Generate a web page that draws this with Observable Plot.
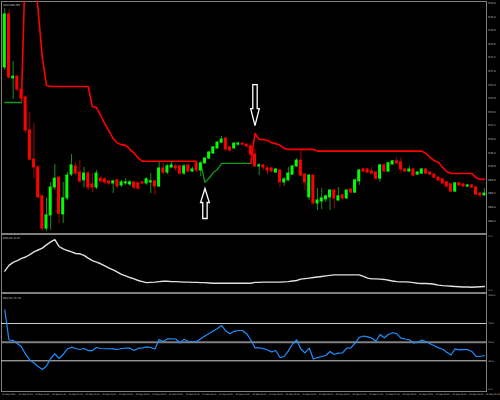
<!DOCTYPE html>
<html><head><meta charset="utf-8">
<script src="https://cdn.jsdelivr.net/npm/d3@7"></script>
<script src="https://cdn.jsdelivr.net/npm/@observablehq/plot@0.6"></script>
<style>
html,body{margin:0;padding:0;background:#000;}
#chart{width:500px;height:400px;position:relative;overflow:hidden;background:#000;}
#chart svg{position:absolute;left:0;display:block;}
</style></head><body><div id="chart"></div>
<script>
const chartTitle = "XAUUSD,M5";
const openP = [672.91,674.47,672.59,672.64,672.26,672.03,671.06,670.20,669.97,669.12,
668.17,668.56,669.38,669.67,668.59,669.06,669.76,670.00,669.82,669.59,
669.79,669.47,669.38,669.64,669.62,669.56,669.50,669.59,669.44,669.50,
669.47,669.53,669.50,669.53,669.50,669.53,669.56,669.41,669.94,669.82,
669.97,670.00,670.00,669.79,670.03,669.85,670.09,669.88,670.09,670.23,
670.38,670.53,670.70,670.82,670.56,670.53,670.64,670.67,670.64,670.59,
670.35,670.00,670.03,669.94,669.94,669.82,669.88,669.53,669.59,669.76,
670.00,670.17,669.76,669.09,669.73,668.91,668.97,669.03,669.09,669.29,
669.00,669.15,669.06,669.32,669.23,669.56,669.91,669.91,669.85,669.82,
669.64,670.03,669.85,670.06,670.15,670.12,669.91,669.85,669.91,669.76,
669.79,669.91,669.82,669.76,669.67,669.62,669.53,669.47,669.26,669.50,
669.47,669.41,669.44,669.38,669.20,669.15];
const highP = [674.64,674.59,673.09,672.67,672.29,672.09,671.59,671.26,670.03,669.15,
669.06,669.53,670.06,669.70,669.53,669.82,670.35,670.12,670.17,669.97,
669.85,669.79,669.88,669.70,669.67,669.59,669.59,669.62,669.59,669.64,
669.59,669.56,669.53,669.56,669.67,669.79,669.59,670.12,670.09,670.06,
670.15,670.06,670.03,670.06,670.06,669.97,670.15,670.15,670.26,670.44,
670.59,670.73,670.88,670.85,670.59,670.70,670.73,670.70,670.67,670.67,
670.50,670.09,670.06,670.00,669.97,669.94,669.91,669.67,669.97,670.03,
670.23,670.53,669.79,669.76,669.76,669.35,669.35,669.15,669.32,669.32,
669.38,669.17,669.32,669.35,669.62,669.91,669.94,669.94,669.97,669.85,
670.06,670.06,670.12,670.17,670.26,670.26,669.94,670.00,669.94,669.85,
669.94,669.94,669.85,669.79,669.70,669.64,669.56,669.50,669.53,669.53,
669.50,669.47,669.47,669.41,669.23,669.35];
const lowP = [672.82,672.56,671.97,672.20,671.94,670.97,670.17,669.64,669.06,668.09,
668.09,668.12,669.29,668.32,668.32,669.00,669.70,669.73,669.50,669.38,
669.29,669.23,669.32,669.50,669.47,669.44,669.20,669.35,669.38,669.44,
669.41,669.32,669.29,669.47,669.44,669.20,669.15,669.38,669.76,669.76,
669.94,669.85,669.73,669.73,669.82,669.82,669.82,669.70,670.06,670.20,
670.35,670.50,670.67,670.44,670.41,670.50,670.59,670.62,670.56,670.29,
669.97,669.73,669.88,669.76,669.82,669.79,669.38,669.41,669.56,669.73,
669.97,669.70,669.29,669.00,668.88,668.70,668.73,668.94,668.70,668.76,
668.97,669.00,669.03,669.20,669.20,669.44,669.82,669.79,669.76,669.59,
669.53,669.82,669.82,670.03,670.06,669.82,669.82,669.82,669.70,669.73,
669.76,669.76,669.73,669.64,669.56,669.47,669.35,669.23,669.23,669.41,
669.38,669.38,669.35,669.15,669.06,669.12];
const closeP = [674.47,672.62,672.64,672.26,672.00,671.06,670.20,669.97,669.09,668.17,
668.56,669.38,669.64,668.61,669.06,669.73,670.03,669.79,669.56,669.79,
669.38,669.38,669.79,669.56,669.53,669.50,669.56,669.41,669.53,669.53,
669.53,669.38,669.35,669.50,669.62,669.56,669.41,669.94,669.82,670.00,
670.03,669.94,669.79,670.00,669.85,669.91,669.88,670.09,670.23,670.41,
670.56,670.70,670.79,670.50,670.47,670.67,670.67,670.64,670.59,670.35,
670.00,670.03,669.97,669.88,669.85,669.91,669.53,669.62,669.79,670.00,
670.17,669.73,669.53,669.73,668.91,669.00,669.06,669.12,669.29,669.06,
669.12,669.06,669.29,669.23,669.59,669.88,669.85,669.82,669.79,669.64,
670.03,669.85,670.09,670.15,670.09,669.91,669.85,669.91,669.73,669.82,
669.91,669.79,669.76,669.67,669.59,669.50,669.41,669.26,669.50,669.44,
669.41,669.44,669.38,669.17,669.15,669.20];
const N = null;
const trendUp = [671.88,671.88,671.88,671.88,671.88,N,N,N,N,N,
N,N,N,N,N,N,N,N,N,N, N,N,N,N,N,N,N,N,N,N, N,N,N,N,N,N,N,N,N,N,
N,N,N,N,N,N,N,670.09,669.53,669.66,
669.82,669.91,670.09,670.09,670.09,670.09,670.09,670.09,670.09,670.09,
N,N,N,N,N,N,N,N,N,N, N,N,N,N,N,N,N,N,N,N, N,N,N,N,N,N,N,N,N,N,
N,N,N,N,N,N,N,N,N,N, N,N,N,N,N,N,N,N,N,N, N,N,N,N,N,N];
const trendDown = [N,N,N,N,671.94,676.35,676.20,675.76,674.59,673.20,
672.38,672.35,672.35,672.35,672.35,672.35,672.35,672.35,672.35,672.35,
672.35,671.76,671.73,671.50,671.25,671.04,670.82,670.69,670.64,670.62,
670.50,670.39,670.25,670.15,670.15,670.15,670.15,670.15,670.15,670.15,
670.15,670.15,670.15,670.15,670.15,670.15,670.15,N,N,N,
N,N,N,N,N,N,N,N,N,670.09,
670.97,670.79,670.79,670.76,670.70,670.67,670.62,670.53,670.50,670.50,
670.50,670.50,670.50,670.50,670.50,670.45,670.45,670.45,670.45,670.45,
670.45,670.45,670.45,670.45,670.45,670.45,670.45,670.45,670.45,670.45,
670.45,670.45,670.45,670.45,670.45,670.45,670.45,670.45,670.45,670.45,
670.45,670.38,670.26,670.17,670.12,669.97,669.85,669.79,669.79,669.79,
669.79,669.79,669.79,669.67,669.62,669.62];
const atrValues = [0.72,0.93,1.04,1.11,1.19,1.24,1.33,1.43,1.50,1.57,
1.69,1.80,1.88,1.63,1.54,1.48,1.43,1.37,1.36,1.30,
1.20,1.11,1.05,0.99,0.91,0.83,0.76,0.68,0.60,0.54,
0.48,0.43,0.37,0.33,0.29,0.30,0.31,0.33,0.34,0.34,
0.33,0.33,0.32,0.31,0.31,0.30,0.30,0.29,0.29,0.28,
0.27,0.27,0.27,0.27,0.27,0.27,0.27,0.27,0.27,0.27,
0.30,0.30,0.31,0.31,0.31,0.31,0.31,0.32,0.33,0.35,
0.37,0.42,0.44,0.46,0.48,0.50,0.52,0.54,0.56,0.58,
0.58,0.58,0.58,0.58,0.58,0.58,0.52,0.46,0.43,0.43,
0.42,0.41,0.38,0.35,0.33,0.32,0.32,0.31,0.29,0.27,
0.26,0.26,0.25,0.23,0.20,0.18,0.17,0.16,0.15,0.14,
0.13,0.13,0.12,0.13,0.14,0.15];
const rsiValues = [84.5,52.3,51.8,48.6,45.0,36.8,30.9,27.7,23.9,20.7,
24.4,32.5,37.5,32.5,36.8,42.7,44.6,43.2,42.1,43.2,
41.0,41.0,44.3,43.2,42.9,42.9,42.7,42.1,43.2,43.5,
43.5,41.0,43.5,43.7,45.0,44.3,42.7,52.8,50.7,53.6,
53.6,53.4,49.1,53.2,50.7,50.7,50.7,53.6,56.6,59.3,
62.0,64.6,67.8,62.0,59.1,61.6,62.5,62.5,59.1,52.3,
43.9,43.9,43.2,41.6,39.4,41.0,33.5,34.6,40.7,48.0,
52.5,42.7,38.4,43.7,31.9,33.5,34.6,35.7,40.0,36.8,
38.2,38.4,43.7,43.9,49.1,55.0,56.6,55.7,54.4,51.0,
58.2,54.7,58.2,60.1,59.1,54.4,53.4,52.6,49.1,49.6,
52.3,50.7,48.3,46.1,43.9,42.4,39.2,36.2,42.7,41.8,
41.9,41.9,40.0,34.8,34.6,35.7];
const arrowUpIndex = [48], arrowUpPrice = [669.35];
const arrowDownIndex = [60], arrowDownPrice = [671.20];
const priceTicks = [674.8,674.4,674.0,673.6,673.2,672.8,672.4,672.0,671.6,671.2,670.8,670.4,670.0,669.6,669.2,668.8,668.4];
const atrTicks = [2.0, 0.0];
const rsiTicks = [100, 70, 50, 30, 0];
const rsiLevels = [70, 30];
const rsiMid = [50];
const timeTickIndex = d3.range(0, 117, 4);
const timeLabels = ["21 Sep 2020","21 Sep 00:20","21 Sep 00:40","21 Sep 01:00","21 Sep 01:20","21 Sep 01:40",
"21 Sep 02:00","21 Sep 02:20","21 Sep 02:40","21 Sep 03:00","21 Sep 03:20","21 Sep 03:40",
"21 Sep 04:00","21 Sep 04:20","21 Sep 04:40","21 Sep 05:00","21 Sep 05:20","21 Sep 05:40",
"21 Sep 06:00","21 Sep 06:20","21 Sep 06:40","21 Sep 07:00","21 Sep 07:20","21 Sep 07:40",
"21 Sep 08:00","21 Sep 08:20","21 Sep 08:40","21 Sep 09:00","21 Sep 09:20","21 Sep 09:40"];

// ---- build tables ----
const bars = openP.map((o, i) => ({i, o, h: highP[i], l: lowP[i], c: closeP[i],
  up: closeP[i] >= o, stUp: trendUp[i], stDn: trendDown[i], atr: atrValues[i], rsi: rsiValues[i]}));
const bull = bars.filter(d => d.up), bear = bars.filter(d => !d.up);
const upArrows = arrowUpIndex.map((i, k) => ({i, p: arrowUpPrice[k]}));
const dnArrows = arrowDownIndex.map((i, k) => ({i, p: arrowDownPrice[k]}));
const timeTicks = timeTickIndex.map((i, k) => ({i, label: timeLabels[k]}));

const upSym = {draw(ctx) { ctx.moveTo(0,0); ctx.lineTo(4.4,14); ctx.lineTo(2.2,14); ctx.lineTo(2.2,30);
  ctx.lineTo(-2.2,30); ctx.lineTo(-2.2,14); ctx.lineTo(-4.4,14); ctx.closePath(); }};
const dnSym = {draw(ctx) { ctx.moveTo(0,0); ctx.lineTo(4.3,-17); ctx.lineTo(2.2,-17); ctx.lineTo(2.2,-41);
  ctx.lineTo(-2.2,-41); ctx.lineTo(-2.2,-17); ctx.lineTo(-4.3,-17); ctx.closePath(); }};

const FONT = "DejaVu Sans";
const TXT = "#c8c8c8";
const GRID = "#808080";
const xDomain = [-0.79, 115.52];
const common = {width: 500, marginLeft: 1, marginRight: 14,
  style: {background: "transparent", overflow: "visible", color: TXT, fontFamily: FONT}};
const axisOpts = {anchor: "right", label: null, tickFormat: d => d.toFixed(1), tickSize: 0, tickPadding: 1.8,
  fontSize: 2.5, fontFamily: FONT, fill: TXT};

// price scale: 34 px per unit, 674.88 at the top pixel row
const PTOP = 674.88, PPX = 34;
const main = Plot.plot({...common, height: 233, marginTop: 1, marginBottom: 0,
  x: {domain: xDomain, axis: null},
  y: {domain: [PTOP - 233 / PPX, PTOP - 1 / PPX], axis: null},
  marks: [
    Plot.frame({stroke: GRID, strokeWidth: 1}),
    Plot.line(bars, {x: "i", y: "stUp", stroke: "#129a12", strokeWidth: 1.3, clip: true}),
    Plot.line(bars, {x: "i", y: "stDn", stroke: "#ff0000", strokeWidth: 1.6, clip: true}),
    Plot.ruleX(bull, {x: "i", y1: "l", y2: "h", stroke: "#1c8c1c", strokeWidth: 1}),
    Plot.ruleX(bear, {x: "i", y1: "l", y2: "h", stroke: "#a80000", strokeWidth: 1}),
    Plot.rect(bull, {x1: d => d.i - 0.36, x2: d => d.i + 0.36, y1: "o", y2: "c", fill: "#00ff00", insetTop: -0.5, insetBottom: -0.5}),
    Plot.rect(bear, {x1: d => d.i - 0.36, x2: d => d.i + 0.36, y1: "o", y2: "c", fill: "#ff0000", insetTop: -0.5, insetBottom: -0.5}),
    Plot.dot(upArrows, {x: "i", y: "p", symbol: upSym, fill: "#000", stroke: "#ffffff", strokeWidth: 1.3}),
    Plot.dot(dnArrows, {x: "i", y: "p", symbol: dnSym, fill: "#000", stroke: "#ffffff", strokeWidth: 1.3}),
    Plot.axisY({...axisOpts, ticks: priceTicks, fontSize: 2.6}),
    Plot.text([chartTitle], {text: d => d, frameAnchor: "top-left", dx: 1.5, dy: 2.6, fontSize: 2.8, fontFamily: FONT, fill: TXT, textAnchor: "start"})
  ]
});

// ATR: 0 at 290px, 27 px per unit; panel spans 233..292
const atrPlot = Plot.plot({...common, height: 59, marginTop: 1, marginBottom: 0,
  x: {domain: xDomain, axis: null},
  y: {domain: [-2 / 27, 56 / 27], axis: null},
  marks: [
    Plot.frame({stroke: GRID, strokeWidth: 1}),
    Plot.line(bars, {x: "i", y: "atr", stroke: "#e0e0e0", strokeWidth: 1.4}),
    Plot.axisY({...axisOpts, ticks: atrTicks}),
    Plot.text(["ATR(14) " + atrValues[atrValues.length - 1].toFixed(2)], {text: d => d, frameAnchor: "top-left", dx: 1.5, dy: 2.6,
      fontSize: 2.6, fontFamily: FONT, fill: TXT, textAnchor: "start"})
  ]
});

// RSI: 0 at 388.3px, 100 at 295px; panel spans 292..391
const rsiPx = 0.933;
const rsiPlot = Plot.plot({...common, height: 108, marginTop: 1, marginBottom: 9,
  x: {domain: xDomain, axis: null},
  y: {domain: [-(391 - 388.3) / rsiPx, (388.3 - 293) / rsiPx], axis: null},
  marks: [
    Plot.frame({stroke: GRID, strokeWidth: 1}),
    Plot.ruleY(rsiLevels, {stroke: "#d0d0d0", strokeWidth: 1}),
    Plot.ruleY(rsiMid, {stroke: GRID, strokeWidth: 2}),
    Plot.line(bars, {x: "i", y: "rsi", stroke: "#1e90ff", strokeWidth: 1.2}),
    Plot.axisY({...axisOpts, ticks: rsiTicks}),
    Plot.text(timeTicks, {x: "i", text: "label", frameAnchor: "bottom", dy: 3.2, dx: -2.6, textAnchor: "start",
      fontSize: 2.1, fontFamily: FONT, fill: TXT}),
    Plot.text(["RSI(14) " + rsiValues[rsiValues.length - 1].toFixed(2)], {text: d => d, frameAnchor: "top-left", dx: 1.5, dy: 4,
      fontSize: 2.6, fontFamily: FONT, fill: TXT, textAnchor: "start"})
  ]
});

const host = document.getElementById("chart");
main.style.top = "0px"; atrPlot.style.top = "233px"; rsiPlot.style.top = "292px";
host.append(main, atrPlot, rsiPlot);
</script></body></html>
